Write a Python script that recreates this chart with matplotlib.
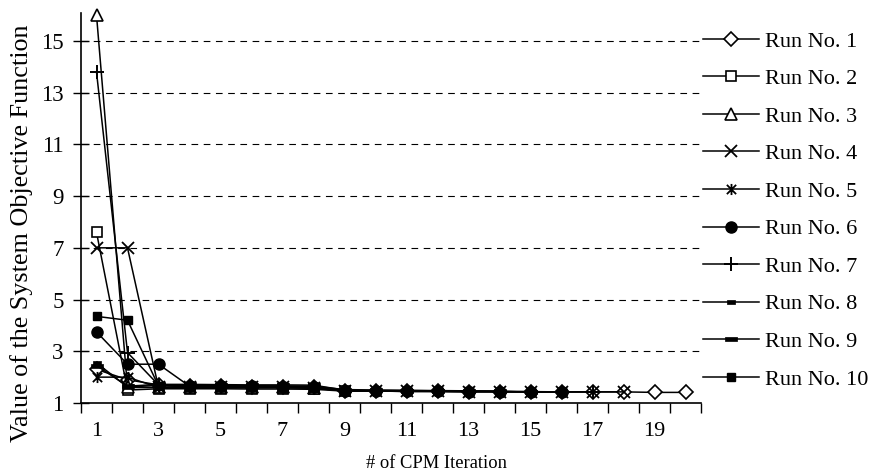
import matplotlib
matplotlib.use("Agg")
import matplotlib.pyplot as plt
from matplotlib.path import Path
import numpy as np

plt.rcParams['font.family'] = ['Liberation Serif', 'DejaVu Serif']

# ---- data ----
iterations = list(range(1, 21))
run_labels = ["Run No. %d" % i for i in range(1, 11)]
run1 = [2.3, 1.9, 1.7, 1.65, 1.64, 1.63, 1.62, 1.6, 1.46, 1.46, 1.45, 1.45, 1.44, 1.44, 1.43, 1.43, 1.43, 1.43, 1.41, 1.41]
run2 = [7.6, 1.5, 1.55, 1.55, 1.55, 1.54, 1.54, 1.53, 1.46]
run3 = [16.0, 1.6, 1.6, 1.6, 1.6, 1.6, 1.6, 1.58]
run4 = [7.0, 7.0, 1.6, 1.6, 1.6, 1.6, 1.6, 1.58, 1.46, 1.46, 1.45, 1.45, 1.44, 1.44, 1.43, 1.43, 1.43, 1.43]
run5 = [2.0, 2.0, 1.6, 1.6, 1.6, 1.6, 1.6, 1.58]
run6 = [3.75, 2.5, 2.5, 1.65, 1.64, 1.64, 1.63, 1.62, 1.46, 1.46, 1.45, 1.45, 1.44, 1.44, 1.43, 1.43]
run7 = [13.8, 2.95, 1.7, 1.6, 1.6, 1.6, 1.6, 1.58, 1.46, 1.46, 1.45, 1.45, 1.44, 1.44, 1.43, 1.43, 1.43]
run8 = [2.55, 1.62, 1.68, 1.68, 1.67, 1.67, 1.66, 1.65, 1.52, 1.5, 1.49, 1.48, 1.47, 1.46]
run9 = [2.45, 1.65, 1.72, 1.72, 1.71, 1.7, 1.7, 1.69, 1.5, 1.49, 1.48, 1.47, 1.46, 1.45, 1.44]
run10 = [4.35, 4.2, 1.66, 1.66, 1.65, 1.65, 1.64, 1.63, 1.47, 1.46, 1.46, 1.45, 1.45, 1.44, 1.44, 1.43]
runs = [run1, run2, run3, run4, run5, run6, run7, run8, run9, run10]
y_ticks = [1, 3, 5, 7, 9, 11, 13, 15]
x_tick_labels = [1, 3, 5, 7, 9, 11, 13, 15, 17, 19]

# ---- marker shapes ----
star = Path([(-1, -1), (1, 1), (-1, 1), (1, -1), (0, -1.2), (0, 1.2)],
            [Path.MOVETO, Path.LINETO, Path.MOVETO, Path.LINETO, Path.MOVETO, Path.LINETO])
short_dash = Path([(-1, -0.4), (1, -0.4), (1, 0.4), (-1, 0.4), (-1, -0.4)],
                  [Path.MOVETO, Path.LINETO, Path.LINETO, Path.LINETO, Path.CLOSEPOLY])
long_dash = Path([(-1, -0.25), (1, -0.25), (1, 0.25), (-1, 0.25), (-1, -0.25)],
                 [Path.MOVETO, Path.LINETO, Path.LINETO, Path.LINETO, Path.CLOSEPOLY])

styles = [
    dict(marker='D', ms=7, mfc='white', mec='black', mew=1.2),
    dict(marker='s', ms=7, mfc='white', mec='black', mew=1.2),
    dict(marker='^', ms=9, mfc='white', mec='black', mew=1.2),
    dict(marker='x', ms=9, mfc='none', mec='black', mew=1.3),
    dict(marker=star, ms=8, mfc='none', mec='black', mew=1.3),
    dict(marker='o', ms=8, mfc='black', mec='black', mew=1.0),
    dict(marker='+', ms=10, mfc='none', mec='black', mew=1.4),
    dict(marker=short_dash, ms=6, mfc='black', mec='black', mew=0.5),
    dict(marker=long_dash, ms=9, mfc='black', mec='black', mew=0.5),
    dict(marker='s', ms=5.5, mfc='black', mec='black', mew=1.0),
]

fig = plt.figure(figsize=(8.76, 4.74), dpi=100)
ax = fig.add_axes([81/876, 1-403/474, 620/876, 390/474])

for vals, lab, st in zip(runs, run_labels, styles):
    xs = iterations[:len(vals)]
    ax.plot(xs, vals, color='black', lw=1.1, label=lab, clip_on=False, **st)

ax.set_xlim(0.5, 20.5)
ax.set_ylim(1, 16.08)
ax.set_yticks(y_ticks)
ax.set_yticklabels([str(v) for v in y_ticks])
for v in y_ticks[1:]:
    ax.axhline(v, color='black', lw=0.8, ls=(0, (6, 5)), zorder=0)

ax.set_xticks(np.arange(0.5, 21.0, 1.0))
ax.set_xticklabels([])
ax.set_xticks(x_tick_labels, minor=True)
ax.set_xticklabels([str(v) for v in x_tick_labels], minor=True)
ax.tick_params(axis='x', which='major', direction='out', length=7, width=1)
ax.tick_params(axis='x', which='minor', length=0, pad=14, labelsize=16)
ax.tick_params(axis='y', which='major', direction='inout', length=11, width=1, labelsize=16.5, pad=7)

for s in ['top', 'right']:
    ax.spines[s].set_visible(False)
for s in ['left', 'bottom']:
    ax.spines[s].set_linewidth(1.2)

ax.set_xlabel("# of CPM Iteration", fontsize=13.3)
ax.xaxis.set_label_coords((436 - 81) / 620, -(455 - 403) / 390)
ax.set_ylabel("Value of the System Objective Function", fontsize=18.8)
ax.yaxis.set_label_coords(-(81 - 33) / 620, (403 - 233) / 390)

fig.legend(loc='upper left', bbox_to_anchor=(703/876, 1-31/474), frameon=False,
           fontsize=16, handlelength=2.5, handletextpad=0.3, labelspacing=0.765,
           borderpad=0, borderaxespad=0)

fig.savefig("out.png", dpi=100)
